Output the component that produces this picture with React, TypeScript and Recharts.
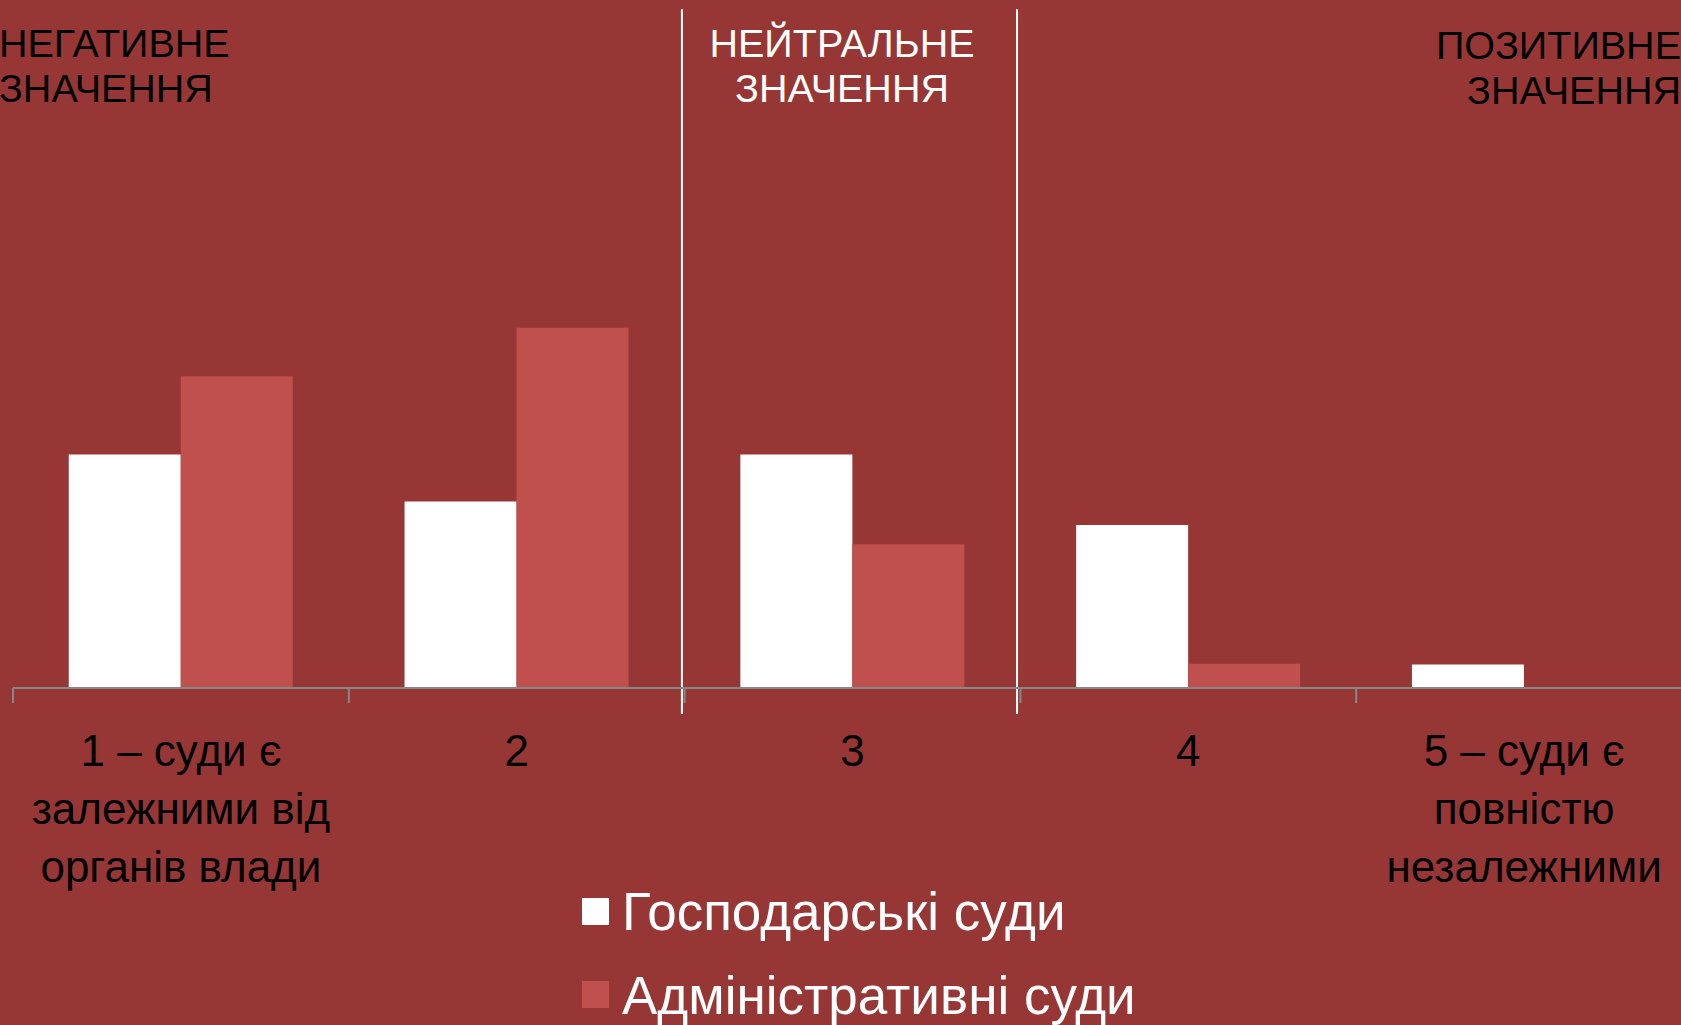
import React from 'react';
import { BarChart, Bar, XAxis, YAxis, ReferenceLine, Legend } from 'recharts';

// ---- data ----
const categories = ['1', '2', '3', '4', '5'];
const categoryLabels: string[][] = [
  ['1 – суди є', 'залежними від', 'органів влади'],
  ['2'],
  ['3'],
  ['4'],
  ['5 – суди є', 'повністю', 'незалежними'],
];
const commercialCourts = [27.8, 22.2, 27.8, 19.4, 2.8];
const administrativeCourts = [37.1, 42.9, 17.1, 2.9, 0];
const seriesNames = ['Господарські суди', 'Адміністративні суди'];
const zoneTitles: string[][] = [
  ['НЕГАТИВНЕ', 'ЗНАЧЕННЯ'],
  ['НЕЙТРАЛЬНЕ', 'ЗНАЧЕННЯ'],
  ['ПОЗИТИВНЕ', 'ЗНАЧЕННЯ'],
];
const zoneBoundaries = [1.992, 2.99];
const boundaryTicks = [0, 1, 2, 3, 4, 5];

const data = categories.map((c, i) => ({
  cat: c,
  pos: i + 0.5,
  commercial: commercialCourts[i],
  administrative: administrativeCourts[i],
}));

// ---- styles ----
const BG = '#963735';
const WHITE = '#FFFFFF';
const RED = '#C0504D';
const SERIES_COLORS = [WHITE, RED];
const AXIS = '#878787';
const FONT = '"Liberation Sans", Arial, sans-serif';

const CategoryTick = (props: any) => {
  const { x, y, payload } = props;
  const idx = categories.indexOf(String(payload.value));
  const lines = categoryLabels[idx] || [String(payload.value)];
  return (
    <text x={x} y={y} textAnchor="middle" fill="#000" fontFamily={FONT} fontSize={44}>
      {lines.map((l, i) => (
        <tspan key={i} x={x} y={y + 78 + i * 58}>
          {l}
        </tspan>
      ))}
    </text>
  );
};

const LegendContent = (props: any) => {
  const payload: any[] = props.payload || [];
  const items = seriesNames.map((n, i) => {
    const found = payload.find((p) => p.value === n);
    return { value: n, color: found ? found.color : SERIES_COLORS[i] };
  });
  return (
    <div style={{ fontFamily: FONT, fontSize: 53, color: WHITE, lineHeight: '83.5px' }}>
      {items.map((p, i) => (
        <div key={i} style={{ display: 'flex', alignItems: 'flex-start', whiteSpace: 'nowrap' }}>
          <span
            style={{
              display: 'inline-block',
              width: 27,
              height: 27,
              background: p.color,
              marginTop: 27.5,
              marginRight: 13,
              flex: 'none',
            }}
          />
          <span>{p.value}</span>
        </div>
      ))}
    </div>
  );
};

const titleStyle: React.CSSProperties = {
  position: 'absolute',
  top: 21,
  fontFamily: FONT,
  fontSize: 39.5,
  lineHeight: '45px',
  whiteSpace: 'nowrap',
};

export default function App() {
  return (
    <div
      style={{
        position: 'absolute',
        left: 0,
        top: 0,
        width: 1681,
        height: 1025,
        overflow: 'hidden',
        background: BG,
      }}
    >
      <BarChart
        width={1692}
        height={1025}
        data={data}
        margin={{ top: 268, right: 0, bottom: 0, left: 13 }}
        barCategoryGap="16.6%"
        barGap={0}
      >
        <XAxis
          xAxisId="cat"
          dataKey="cat"
          type="category"
          height={337}
          axisLine={{ stroke: AXIS, strokeWidth: 2 }}
          tickLine={false}
          tickSize={0}
          tickMargin={0}
          interval={0}
          tick={<CategoryTick />}
        />
        <XAxis
          xAxisId="num"
          dataKey="pos"
          type="number"
          domain={[0, 5]}
          hide
          allowDataOverflow
        />
        <YAxis hide domain={[0, 50]} allowDataOverflow />
        <Bar
          xAxisId="cat"
          dataKey="commercial"
          name={seriesNames[0]}
          fill={WHITE}
          isAnimationActive={false}
        />
        <Bar
          xAxisId="cat"
          dataKey="administrative"
          name={seriesNames[1]}
          fill={RED}
          isAnimationActive={false}
        />
        {boundaryTicks.map((t) => (
          <ReferenceLine
            key={'t' + t}
            xAxisId="num"
            segment={[
              { x: t, y: 0 },
              { x: t, y: -1.79 },
            ]}
            stroke={AXIS}
            strokeWidth={2}
            ifOverflow="visible"
          />
        ))}
        {zoneBoundaries.map((b) => (
          <ReferenceLine
            key={'z' + b}
            xAxisId="num"
            segment={[
              { x: b, y: -3.1 },
              { x: b, y: 80.8 },
            ]}
            stroke={WHITE}
            strokeWidth={2}
            ifOverflow="visible"
          />
        ))}
        <Legend
          layout="vertical"
          align="center"
          verticalAlign="middle"
          wrapperStyle={{ left: 582, top: 870, width: 'auto', height: 'auto' }}
          content={LegendContent}
        />
      </BarChart>
      <div style={{ ...titleStyle, left: -1, color: '#000', textAlign: 'left' }}>
        {zoneTitles[0].map((l, i) => (
          <div key={i}>{l}</div>
        ))}
      </div>
      <div
        style={{
          ...titleStyle,
          left: 842,
          transform: 'translateX(-50%)',
          color: WHITE,
          textAlign: 'center',
        }}
      >
        {zoneTitles[1].map((l, i) => (
          <div key={i}>{l}</div>
        ))}
      </div>
      <div style={{ ...titleStyle, right: 0, top: 23, color: '#000', textAlign: 'right' }}>
        {zoneTitles[2].map((l, i) => (
          <div key={i}>{l}</div>
        ))}
      </div>
    </div>
  );
}
